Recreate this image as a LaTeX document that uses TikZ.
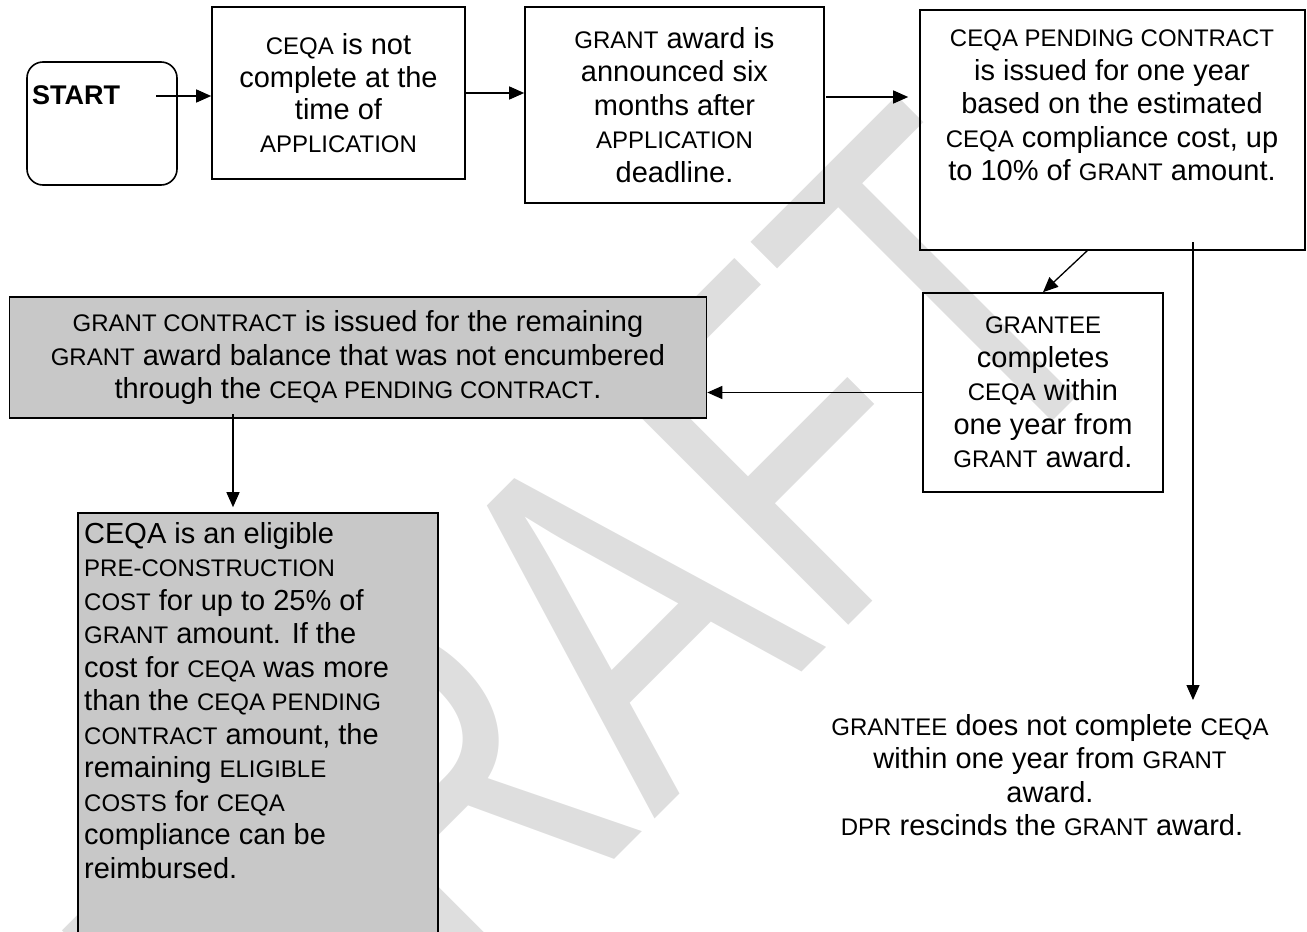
\documentclass[tikz,border=0pt]{standalone}
\usepackage{fontspec}
\setmainfont{Liberation Sans}
\usepackage{graphicx}
\usetikzlibrary{arrows.meta}
\definecolor{boxgray}{RGB}{200,200,200}
\definecolor{wmgray}{RGB}{222,222,222}
\newcommand{\kw}[1]{{\fontsize{24}{33.5}\selectfont #1}}
\begin{document}
\begin{tikzpicture}[x=1pt,y=-1pt,
		nodes={font=\fontsize{29}{33.5}\selectfont},
		box/.style={draw,line width=1.6pt,inner sep=0pt,align=center},
		arr/.style={line width=1.3pt,-{Triangle[length=15pt,width=13pt]}}]
			\useasboundingbox (0,0) rectangle (1307,932);
			\clip (0,0) rectangle (1307,932);
			\node[rotate=45,anchor=base west,inner sep=0pt,text=wmgray] (wm) at (281,1193) {\scalebox{1}[1.35]{\fontsize{366}{366}\selectfont DRAFT}};
			\node[box,rounded corners=16pt,minimum width=150pt,minimum height=123pt] (start) at (102,123.5) {};
			\node[anchor=base west,inner sep=0pt,font=\bfseries\fontsize{27}{30}\selectfont] (starttxt) at (32,104) {START};
			\node[box,minimum width=253pt,minimum height=172pt,font=\fontsize{29}{32.5}\selectfont] (notdone) at (338.5,93) {\kw{CEQA} is not\\complete at the\\time of\\\kw{APPLICATION}};
			\node[box,minimum width=299pt,minimum height=196pt] (award) at (674.5,105) {\kw{GRANT} award is\\announced six\\months after\\\kw{APPLICATION}\\deadline.};
			\node[box,minimum width=385pt,minimum height=240pt] (pend) at (1112.5,130) {};
			\node[anchor=north,inner sep=0pt,align=center] (pendtxt) at (1112,30) {\kw{CEQA PENDING CONTRACT}\\is issued for one year\\based on the estimated\\\kw{CEQA} compliance cost, up\\to 10\% of \kw{GRANT} amount.};
			\node[box,minimum width=240pt,minimum height=199pt] (grantee) at (1043,392.5) {\kw{GRANTEE}\\completes\\\kw{CEQA} within\\one year from\\\kw{GRANT} award.};
			\node[box,fill=boxgray,minimum width=697pt,minimum height=121pt] (gcon) at (358,357.5) {\kw{GRANT CONTRACT} is issued for the remaining\\\kw{GRANT} award balance that was not encumbered\\through the \kw{CEQA PENDING CONTRACT}.};
			\node[box,fill=boxgray,minimum width=360pt,minimum height=440pt] (elig) at (258,733) {};
			\node[anchor=north west,inner sep=0pt,align=left] (eligtxt) at (84,522) {CEQA is an eligible\\\kw{PRE-CONSTRUCTION}\\\kw{COST} for up to 25\% of\\\kw{GRANT} amount. If the\\cost for \kw{CEQA} was more\\than the \kw{CEQA PENDING}\\\kw{CONTRACT} amount, the\\remaining \kw{ELIGIBLE}\\\kw{COSTS} for \kw{CEQA}\\compliance can be\\reimbursed.};
			\node[anchor=north,inner sep=0pt,align=center] (resc) at (1050,714) {\kw{GRANTEE} does not complete \kw{CEQA}\\within one year from \kw{GRANT}\\award.\\\kw{DPR} rescinds the \kw{GRANT} award.\hspace*{16pt}};
			\coordinate (s1) at (156,96);
			\coordinate (a1) at (826,97);
			\coordinate (d1) at (1088,250);
			\coordinate (v1) at (1193,242);
			\coordinate (v2) at (233,414);
			\draw[arr] (s1) -- (s1 -| notdone.west);
			\draw[arr] (notdone.east) -- (notdone.east -| award.west);
			\draw[arr,shorten >=11pt] (a1) -- (a1 -| pend.west);
			\draw[arr] (d1) -- (grantee.north);
			\draw[arr,shorten >=14pt] (v1) -- (v1 |- resc.north);
			\draw[arr] (grantee.west) -- (grantee.west -| gcon.east);
			\draw[arr,shorten >=5pt] (v2) -- (v2 |- elig.north);
\end{tikzpicture}
\end{document}
